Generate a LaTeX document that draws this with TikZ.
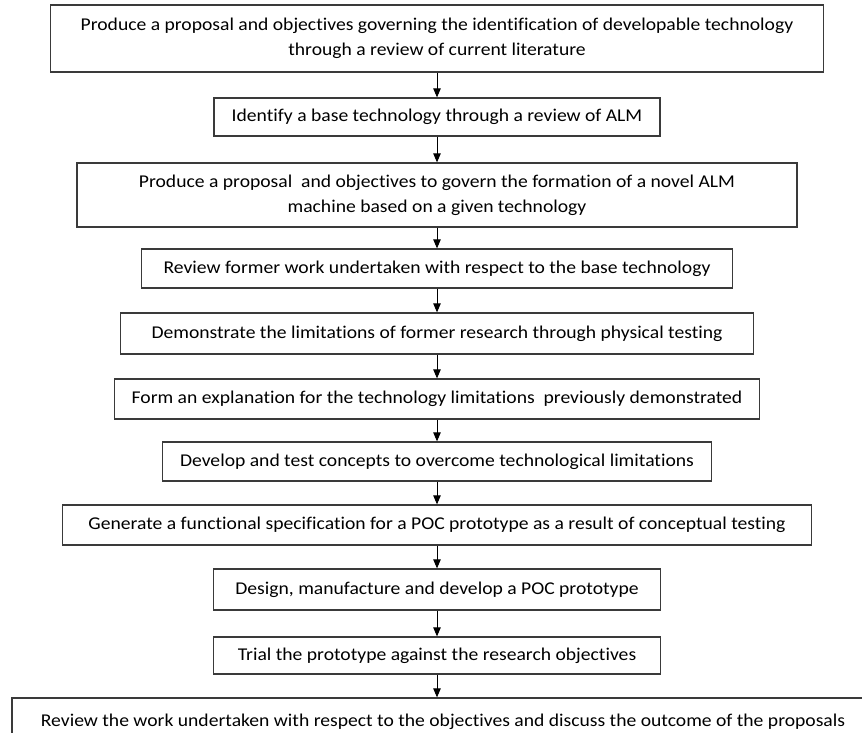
\documentclass[tikz,border=0pt]{standalone}
\usepackage{fontspec}
\setmainfont{Carlito}[FakeStretch=1.09, Ligatures=NoCommon]
\usetikzlibrary{arrows.meta}
\definecolor{edge}{HTML}{3A3A3A}
\tikzset{
  box/.style={draw=edge, line width=1.3pt, inner sep=0pt, align=center,
    font=\fontsize{18}{25}\selectfont, text=black},
  arr/.style={draw=black, line width=0.9pt, -{Triangle[width=7.5pt,length=9pt]}}
}
\begin{document}
\begin{tikzpicture}[x=1pt,y=-1pt]
\useasboundingbox (0,0) rectangle (862,732);
\clip (0,0) rectangle (862,732);
\node[box, minimum width=773pt, minimum height=67pt] (b1) at (437,38.5)
  {Produce a proposal and objectives governing the identification of developable technology\\through a review of current literature};
\node[box, minimum width=446pt, minimum height=38pt] (b2) at (437,117)
  {Identify a base technology through a review of ALM};
\node[box, minimum width=720pt, minimum height=64pt] (b3) at (437,195)
  {Produce a proposal~ and objectives to govern the formation of a novel ALM\\machine based on a given technology};
\node[box, minimum width=591pt, minimum height=39pt] (b4) at (437,268.5)
  {Review former work undertaken with respect to the base technology};
\node[box, minimum width=633pt, minimum height=41pt] (b5) at (437,333.5)
  {Demonstrate the limitations of former research through physical testing};
\node[box, minimum width=645pt, minimum height=40pt] (b6) at (437,399)
  {Form an explanation for the technology limitations~ previously demonstrated};
\node[box, minimum width=549pt, minimum height=39pt] (b7) at (437,461.5)
  {Develop and test concepts to overcome technological limitations};
\node[box, minimum width=749pt, minimum height=40pt] (b8) at (437,525)
  {Generate a functional specification for a POC prototype as a result of conceptual testing};
\node[box, minimum width=447pt, minimum height=41pt] (b9) at (437,589.5)
  {Design, manufacture and develop a POC prototype};
\node[box, minimum width=447pt, minimum height=37pt] (b10) at (437,655.5)
  {Trial the prototype against the research objectives};
\node[box, minimum width=862pt, minimum height=48pt] (b11) at (443,722)
  {Review the work undertaken with respect to the objectives and discuss the outcome of the proposals};
\draw[arr] (b1) -- (b2);
\draw[arr] (b2) -- (b3);
\draw[arr] (b3) -- (b4);
\draw[arr] (b4) -- (b5);
\draw[arr] (b5) -- (b6);
\draw[arr] (b6) -- (b7);
\draw[arr] (b7) -- (b8);
\draw[arr] (b8) -- (b9);
\draw[arr] (b9) -- (b10);
\draw[arr] (b10.south) -- (b10.south |- b11.north);
\end{tikzpicture}
\end{document}
